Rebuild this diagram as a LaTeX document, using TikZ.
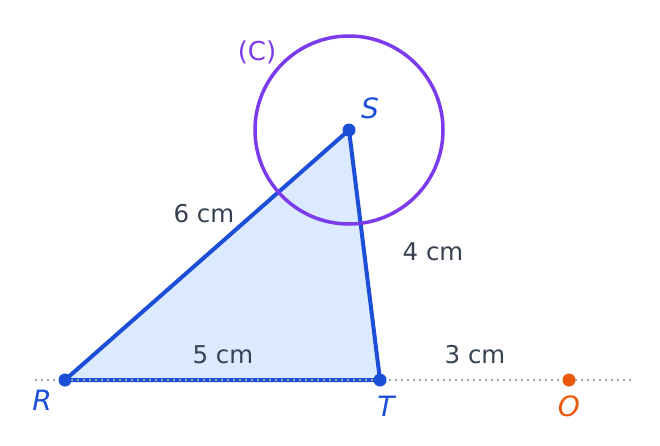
\documentclass[tikz,border=0pt]{standalone}
\usepackage{fontspec}
\setmainfont{DejaVu Sans}
\definecolor{edgeblue}{HTML}{1D4ED8}
\definecolor{fillblue}{HTML}{DBEAFE}
\definecolor{circviolet}{HTML}{7C3AED}
\definecolor{ptorange}{HTML}{EA580C}
\definecolor{txtgray}{HTML}{374151}
\definecolor{axisgray}{HTML}{9CA3AF}
\tikzset{
  edge/.style={edgeblue,line width=4pt,line join=round},
  dot/.style={circle,fill=#1,inner sep=0pt,minimum size=13pt},
  ptlabel/.style={text=#1,font=\fontsize{28}{32}\selectfont\itshape},
  dist/.style={text=txtgray,font=\fontsize{24.5}{28}\selectfont},
}
\begin{document}
\begin{tikzpicture}[x=1pt,y=-1pt]
  \useasboundingbox (0,0) rectangle (660,445);
  \coordinate (R) at (65,380);
  \coordinate (T) at (380,380);
  \coordinate (S) at (349,130);
  \coordinate (O) at (569,380);
  \coordinate (a) at (35,380);
  \coordinate (b) at (632,380);
  \fill[fillblue] (R) -- (S) -- (T) -- cycle;
  \draw[edge] (R) -- (S) -- (T) -- cycle;
  \draw[axisgray,line width=2pt,dash pattern=on 2pt off 4pt] (a) -- (b);
  \draw[circviolet,line width=3.5pt] (S) circle (94pt);
  \node[dot=edgeblue] (r) at (R) {};
  \node[dot=edgeblue] (t) at (T) {};
  \node[dot=edgeblue] (s) at (S) {};
  \node[dot=ptorange] (o) at (O) {};
  \node[ptlabel=edgeblue] (lR) at (42,400) {R};
  \node[ptlabel=edgeblue] (lT) at (386,406) {T};
  \node[ptlabel=edgeblue] (lS) at (370,108) {S};
  \node[ptlabel=ptorange] (lO) at (569,406) {O};
  \node[text=circviolet,font=\fontsize{26}{30}\selectfont] (lC) at (257,52) {(C)};
  \node[dist] (d6) at (204,214) {6 cm};
  \node[dist] (d4) at (433,252) {4 cm};
  \node[dist] (d5) at (223,355) {5 cm};
  \node[dist] (d3) at (475,355) {3 cm};
\end{tikzpicture}
\end{document}
